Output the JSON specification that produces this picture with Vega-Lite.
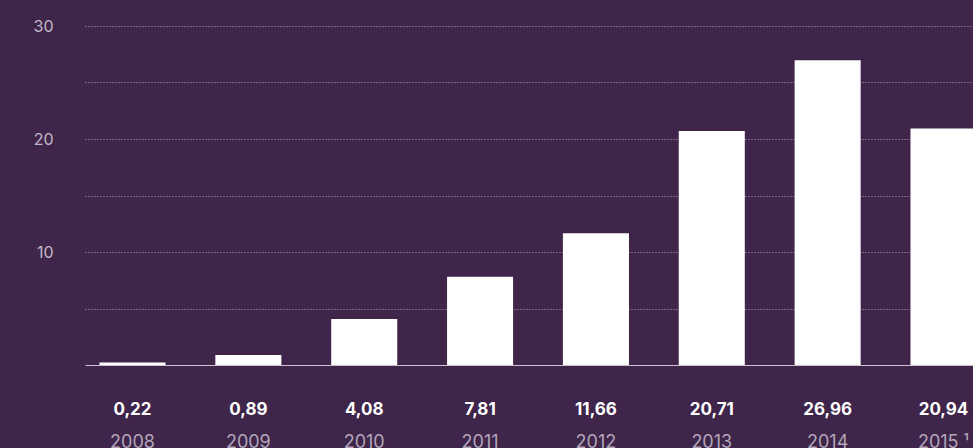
{
  "$schema": "https://vega.github.io/schema/vega-lite/v6.json",
  "width": 906,
  "height": 339,
  "autosize": {"type": "none"},
  "padding": {"left": 85, "top": 26, "right": 0, "bottom": 83},
  "background": "#3e2549",
  "config": {
    "view": {"stroke": null},
    "font": "Inter",
    "locale": {"number": {"decimal": ",", "thousands": ".", "grouping": [3], "currency": ["", " €"]}}
  },
  "data": {
    "values": [
      {"year": "2008", "value": 0.22},
      {"year": "2009", "value": 0.89},
      {"year": "2010", "value": 4.08},
      {"year": "2011", "value": 7.81},
      {"year": "2012", "value": 11.66},
      {"year": "2013", "value": 20.71},
      {"year": "2014", "value": 26.96},
      {"year": "2015 ¹", "value": 20.94}
    ]
  },
  "encoding": {
    "x": {
      "field": "year",
      "type": "ordinal",
      "sort": null,
      "scale": {"paddingInner": 0.43, "paddingOuter": 0.125},
      "axis": {
        "title": null,
        "ticks": false,
        "domain": true,
        "domainColor": "#cbc1cf",
        "domainWidth": 1,
        "labelAngle": 0,
        "labelColor": "#b3a5ba",
        "labelFontSize": 18,
        "labelPadding": 68,
        "labelBaseline": "top"
      }
    }
  },
  "layer": [
    {
      "mark": {"type": "bar", "color": "#ffffff"},
      "encoding": {
        "y": {
          "field": "value",
          "type": "quantitative",
          "scale": {"domain": [0, 30], "nice": false},
          "axis": {
            "title": null,
            "values": [5, 10, 15, 20, 25, 30],
            "labelExpr": "datum.value % 10 === 0 ? datum.label : ''",
            "domain": false,
            "ticks": false,
            "grid": true,
            "gridDash": [1, 2],
            "gridColor": "#b9abbf",
            "gridWidth": 1,
            "labelColor": "#c3b8c8",
            "labelFontSize": 16,
            "labelPadding": 32
          }
        }
      }
    },
    {
      "mark": {"type": "text", "color": "#ffffff", "fontWeight": "bold", "fontSize": 17, "baseline": "middle", "dy": 45},
      "encoding": {
        "y": {"datum": 0, "type": "quantitative"},
        "text": {"field": "value", "type": "quantitative", "format": ".2f"}
      }
    }
  ]
}
